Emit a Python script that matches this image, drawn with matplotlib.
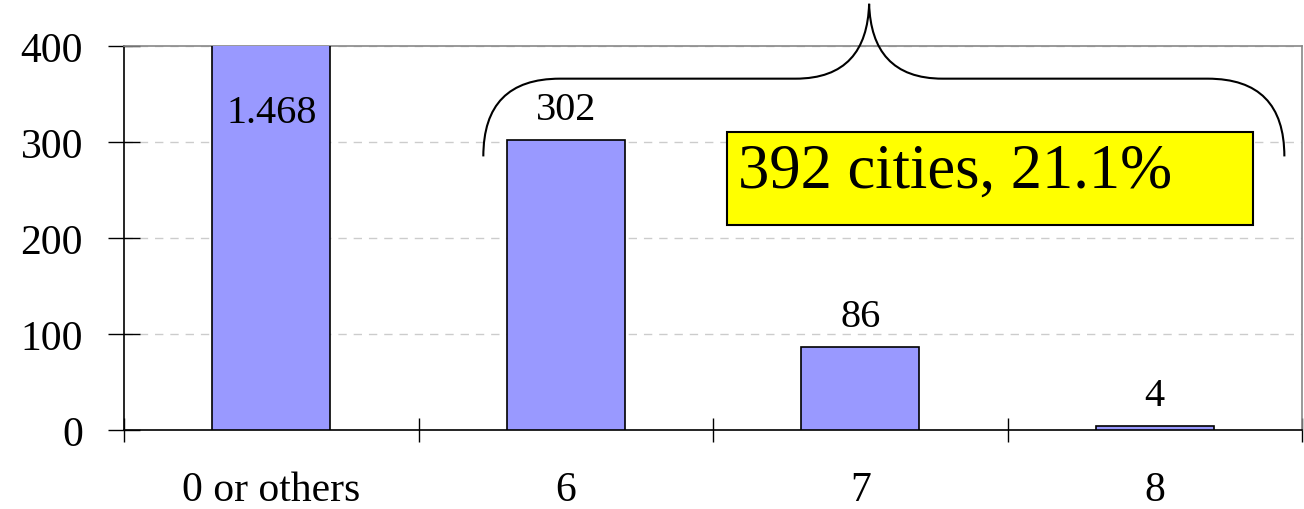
import matplotlib
matplotlib.use("Agg")
import matplotlib.pyplot as plt
from matplotlib.path import Path
from matplotlib.patches import PathPatch, Rectangle

# Number of cities per category
categorias = ["0 or others", "6", "7", "8"]
cidades = [1468, 302, 86, 4]
y_ticks = [0, 100, 200, 300, 400]
texto_destaque = "392 cities, 21.1%"

plt.rcParams["font.family"] = ["Liberation Serif", "DejaVu Serif"]

fig = plt.figure(figsize=(13.04, 5.10), dpi=100)
ax = fig.add_axes([0.0951, 0.1549, 0.9034, 0.7529])

x = list(range(len(categorias)))
ax.bar(x, cidades, width=0.4, color="#9999ff", edgecolor="black", linewidth=1.2, zorder=3)

ax.set_xlim(-0.5, len(categorias) - 0.5)
ax.set_ylim(y_ticks[0], y_ticks[-1])

# value labels (the first bar runs past the top of the axis)
for xi, v in zip(x, cidades):
    rotulo = f"{v:,}".replace(",", ".")
    if v > y_ticks[-1]:
        ax.annotate(rotulo, (xi, y_ticks[-1]), xytext=(0, -48), textcoords="offset points",
                    ha="center", va="center", fontsize=29)
    else:
        ax.annotate(rotulo, (xi, v), xytext=(0, 22), textcoords="offset points",
                    ha="center", va="center", fontsize=29)

# axes styling
ax.set_yticks(y_ticks)
ax.set_xticks([i - 0.5 for i in range(len(categorias) + 1)])
ax.set_xticklabels([])
ax.set_xticks(x, categorias, minor=True)
ax.tick_params(axis="x", which="major", direction="inout", length=17, width=1)
ax.tick_params(axis="x", which="minor", length=0, pad=29, labelsize=30)
ax.tick_params(axis="y", direction="inout", length=23, width=1, pad=18, labelsize=30)

ax.spines["left"].set_color("black")
ax.spines["bottom"].set_color("black")
ax.spines["top"].set_color("#888888")
ax.spines["right"].set_color("#888888")
for s in ax.spines.values():
    s.set_linewidth(1.2)

ax.yaxis.grid(True, color="#cccccc", linestyle=(0, (6, 5)), linewidth=1)
ax.set_axisbelow(True)

# curly brace over the categories 6, 7 and 8
x0, x1, xm = 0.72, 3.44, 2.03
y_base, y_meio, y_topo = 285, 366, 444
verts = [
    (x0, y_base), (x0, y_meio), (0.98, y_meio),
    (1.78, y_meio),
    (1.95, y_meio), (2.025, 395), (xm, y_topo),
    (2.035, 395), (2.11, y_meio), (2.28, y_meio),
    (3.18, y_meio),
    (x1, y_meio), (x1, y_base),
]
codes = [Path.MOVETO, Path.CURVE3, Path.CURVE3,
         Path.LINETO,
         Path.CURVE4, Path.CURVE4, Path.CURVE4,
         Path.CURVE4, Path.CURVE4, Path.CURVE4,
         Path.LINETO,
         Path.CURVE3, Path.CURVE3]
chave = PathPatch(Path(verts, codes), facecolor="none", edgecolor="black",
                  linewidth=1.5, clip_on=False, zorder=5)
ax.add_patch(chave)

# highlighted total
caixa = Rectangle((0.512, 0.534), 0.446, 0.242, transform=ax.transAxes,
                  facecolor="#ffff00", edgecolor="black", linewidth=1.5, zorder=4)
ax.add_patch(caixa)
ax.text(0.521, 0.672, texto_destaque, transform=ax.transAxes, ha="left", va="center",
        fontsize=45, zorder=5)

fig.savefig("out.png", dpi=100)
